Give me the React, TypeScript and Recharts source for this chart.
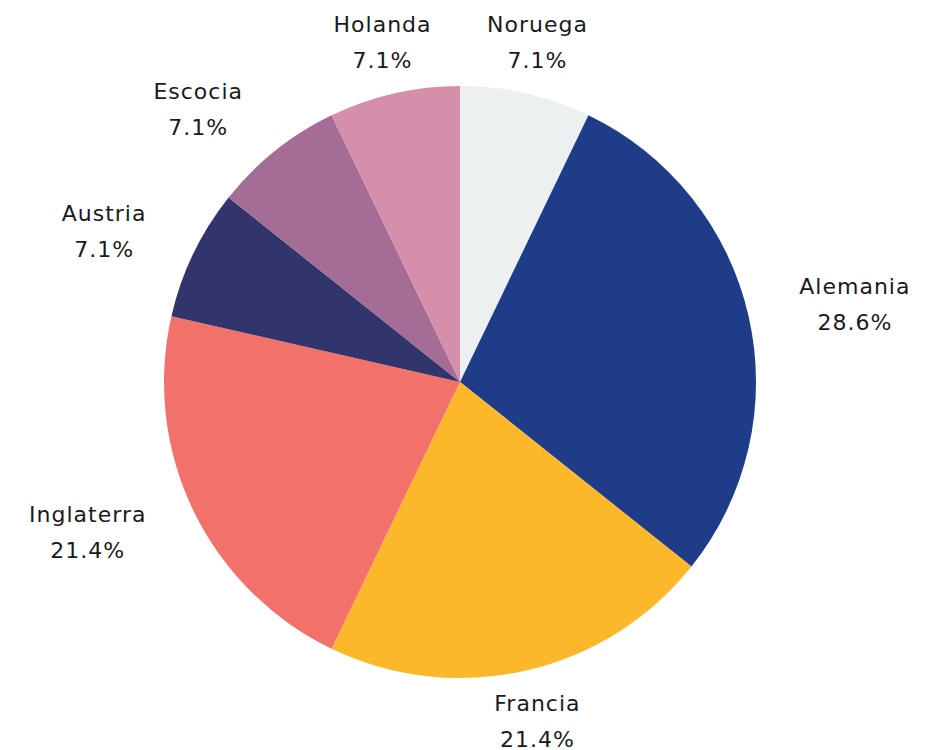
import { PieChart, Pie, Cell } from 'recharts'

const paises = ['Noruega', 'Alemania', 'Francia', 'Inglaterra', 'Austria', 'Escocia', 'Holanda']
const valores = [1, 4, 3, 3, 1, 1, 1]
const colores = ['#ECF0F1', '#1E3C88', '#FDB72B', '#F3716B', '#31356C', '#A56D96', '#D68FAA']

const data = paises.map((name, i) => ({ name, value: valores[i] }))

const FONT = '"DejaVu Sans", sans-serif'
const FONT_SIZE = 22
const SPACING = 1
const RADIAN = Math.PI / 180

let ctx: CanvasRenderingContext2D | null = null
function textWidth(t: string) {
  if (!ctx) ctx = document.createElement('canvas').getContext('2d')
  if (!ctx) return t.length * (FONT_SIZE * 0.6 + SPACING)
  ctx.font = `${FONT_SIZE}px "DejaVu Sans"`
  return ctx.measureText(t).width + t.length * SPACING
}

function renderLabel(props: any) {
  const { cx, cy, midAngle, outerRadius, name, percent } = props
  const r = outerRadius + 52
  // normalizar a (-180, 180]
  let angle = ((midAngle % 360) + 540) % 360 - 180
  const nearVertical = Math.abs(Math.cos(angle * RADIAN)) < 0.5
  if (nearVertical) {
    // etiquetas de arriba/abajo: centradas y cerca del eje vertical
    const base = angle > 0 ? 90 : -90
    const dev = Math.max(-12.86, Math.min(12.86, angle - base))
    angle = base + dev
  }
  const px = cx + r * Math.cos(angle * RADIAN)
  const py = cy - r * Math.sin(angle * RADIAN)
  let x = px
  if (!nearVertical) {
    const w = textWidth(name)
    x = Math.cos(angle * RADIAN) > 0 ? px + w / 2 : px - w / 2
  }
  return (
    <text
      x={x}
      y={py}
      textAnchor="middle"
      fill="#1a1a1a"
      fontFamily={FONT}
      fontSize={FONT_SIZE}
      letterSpacing={SPACING}
    >
      <tspan x={x} y={py - 18} dominantBaseline="central">{name}</tspan>
      <tspan x={x} y={py + 18} dominantBaseline="central">{`${(percent * 100).toFixed(1)}%`}</tspan>
    </text>
  )
}

export default function App() {
  return (
    <div style={{ position: 'absolute', left: 0, top: 0, background: '#fff' }}>
      <PieChart width={925} height={750} margin={{ top: 0, right: 0, bottom: 0, left: 0 }}>
        <Pie
          data={data}
          dataKey="value"
          nameKey="name"
          cx={460}
          cy={382}
          outerRadius={296}
          startAngle={90}
          endAngle={-270}
          stroke="none"
          label={renderLabel}
          labelLine={false}
          isAnimationActive={false}
        >
          {data.map((d, i) => (
            <Cell key={d.name} fill={colores[i]} stroke="none" />
          ))}
        </Pie>
      </PieChart>
    </div>
  )
}
